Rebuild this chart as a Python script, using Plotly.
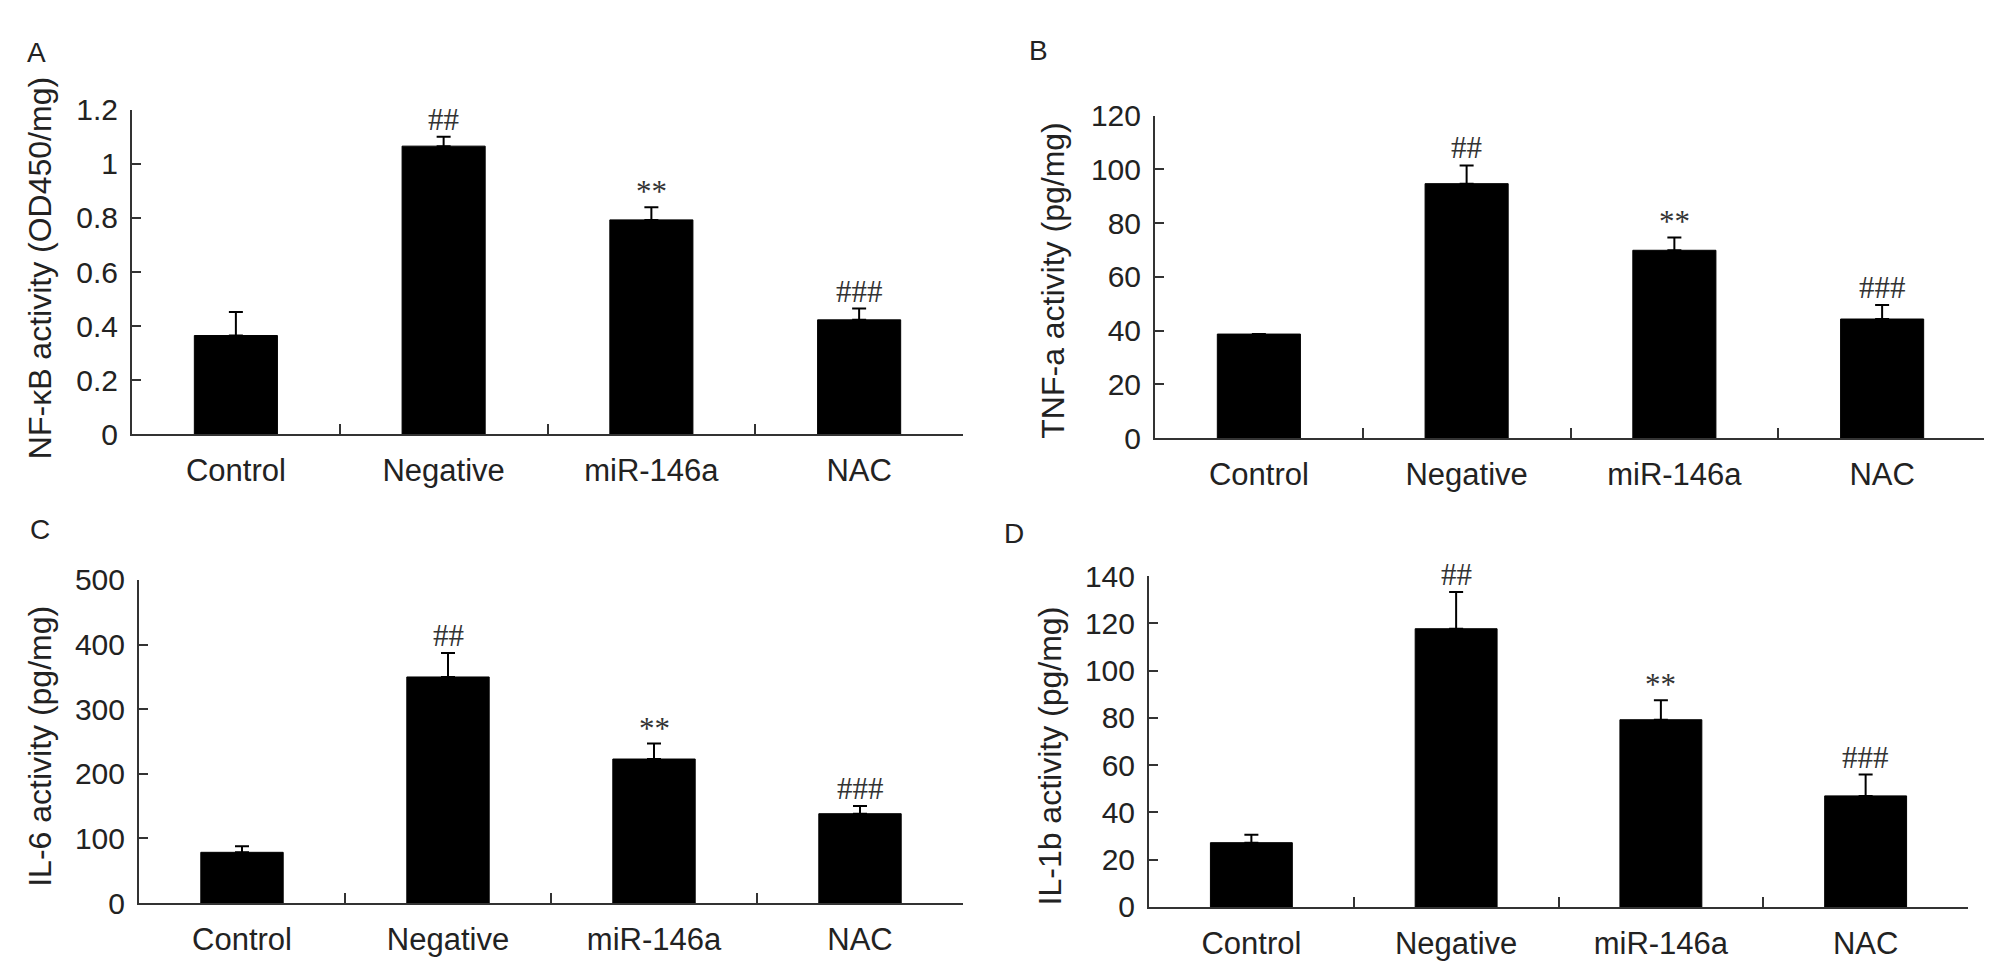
import plotly.graph_objects as go

categories = ["Control", "Negative", "miR-146a", "NAC"]

nfkb_mean = [0.365, 1.066, 0.793, 0.423]
nfkb_err = [0.087, 0.035, 0.047, 0.042]
nfkb_sig = ["", "##", "**", "###"]

tnf_mean = [38.7, 94.7, 69.9, 44.3]
tnf_err = [0.0, 6.8, 4.8, 5.2]
tnf_sig = ["", "##", "**", "###"]

il6_mean = [78.6, 349.8, 222.9, 138.3]
il6_err = [9.5, 37.0, 24.0, 12.0]
il6_sig = ["", "##", "**", "###"]

il1b_mean = [27.2, 117.7, 79.2, 47.0]
il1b_err = [3.4, 15.5, 8.2, 9.0]
il1b_sig = ["", "##", "**", "###"]

nfkb_ticks = [0, 0.2, 0.4, 0.6, 0.8, 1.0, 1.2]
nfkb_ticktext = ["0", "0.2", "0.4", "0.6", "0.8", "1", "1.2"]
tnf_ticks = [0, 20, 40, 60, 80, 100, 120]
il6_ticks = [0, 100, 200, 300, 400, 500]
il1b_ticks = [0, 20, 40, 60, 80, 100, 120, 140]

titles = ["NF-κB activity (OD450/mg)", "TNF-a activity (pg/mg)",
          "IL-6 activity (pg/mg)", "IL-1b activity (pg/mg)"]
letters = ["A", "B", "C", "D"]

W, H = 1992, 971
FONT = "Arial, 'Liberation Sans', sans-serif"
AX = "#333333"

# panel layout in pixels: (x_axis_start, x_axis_end, y_bottom, y_top)
panels_px = [
    (124, 955, 424, 88),
    (1147, 1978, 428, 94),
    (131, 955, 910, 575),
    (1141, 1960, 914, 571),
]
title_px = [(32, 252), (1045, 265), (32, 748), (1042, 758)]
letter_px = [(28, 28), (1030, 26), (32, 523), (1006, 527)]

datasets = [
    (nfkb_mean, nfkb_err, nfkb_sig, nfkb_ticks, nfkb_ticktext, 1.2),
    (tnf_mean, tnf_err, tnf_sig, tnf_ticks, [str(t) for t in tnf_ticks], 120),
    (il6_mean, il6_err, il6_sig, il6_ticks, [str(t) for t in il6_ticks], 500),
    (il1b_mean, il1b_err, il1b_sig, il1b_ticks, [str(t) for t in il1b_ticks], 140),
]

fig = go.Figure()
annotations = []

for i, (mean, err, sig, tv, tt, ymax) in enumerate(datasets):
    n = i + 1
    xa = "x" if n == 1 else f"x{n}"
    ya = "y" if n == 1 else f"y{n}"
    x0, x1, yb, yt = panels_px[i]
    fig.add_trace(go.Bar(
        x=categories, y=mean, xaxis=xa, yaxis=ya,
        marker=dict(color="black", line=dict(color="black", width=1)),
        error_y=dict(type="data", array=err, arrayminus=[0] * len(err),
                     symmetric=False, color="black", thickness=2, width=7),
        showlegend=False, width=0.4,
    ))
    xkey = "xaxis" if n == 1 else f"xaxis{n}"
    ykey = "yaxis" if n == 1 else f"yaxis{n}"
    fig.layout[xkey] = dict(
        domain=[x0 / W, x1 / W], anchor=ya, type="category",
        range=[-0.5, len(categories) - 0.5],
        showline=True, linecolor=AX, linewidth=2,
        ticks="inside", ticklen=10, tickwidth=2, tickcolor=AX,
        tickson="boundaries", showgrid=False, zeroline=False,
        tickfont=dict(family=FONT, size=31, color="#222222"),
        ticklabelstandoff=8, fixedrange=True,
    )
    fig.layout[ykey] = dict(
        domain=[1 - yb / H, 1 - yt / H], anchor=xa,
        range=[0, ymax], showline=True, linecolor=AX, linewidth=2,
        ticks="inside", ticklen=9, tickwidth=2, tickcolor=AX,
        tickvals=tv, ticktext=tt, showgrid=False, zeroline=False,
        tickfont=dict(family=FONT, size=30, color="#222222"),
        ticklabelstandoff=6, fixedrange=True,
    )
    # significance marks
    for c, m, e, s in zip(categories, mean, err, sig):
        if s:
            annotations.append(dict(
                x=c, y=m + e, xref=xa, yref=ya, text=s, showarrow=False,
                yanchor="bottom", yshift=(-4 if s == "**" else -2),
                font=dict(family="'Liberation Serif', 'Times New Roman', serif",
                          size=31, color="#333333"),
            ))
    # y-axis title
    tx, ty = title_px[i]
    annotations.append(dict(
        x=tx / W, y=1 - ty / H, xref="paper", yref="paper", text=titles[i],
        textangle=-90, showarrow=False, xanchor="center", yanchor="middle",
        font=dict(family=FONT, size=32, color="#222222"),
    ))
    lx, ly = letter_px[i]
    annotations.append(dict(
        x=lx / W, y=1 - ly / H, xref="paper", yref="paper", text=letters[i],
        showarrow=False, xanchor="center", yanchor="middle",
        font=dict(family=FONT, size=28, color="#222222"),
    ))

fig.update_layout(
    width=W, height=H, margin=dict(l=0, r=0, t=0, b=0),
    paper_bgcolor="white", plot_bgcolor="white",
    annotations=annotations, bargap=0.6,
)

fig.write_html("out.html")
